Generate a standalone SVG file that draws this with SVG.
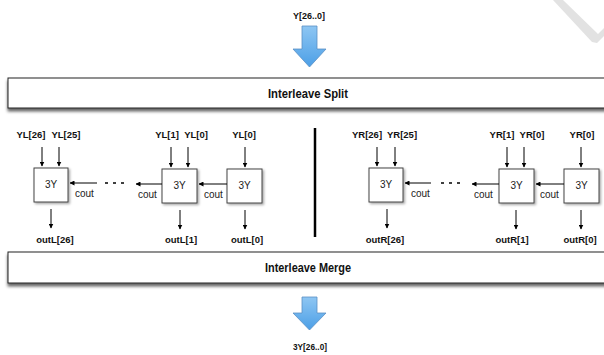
<svg xmlns="http://www.w3.org/2000/svg" width="604" height="355" viewBox="0 0 604 355">
<style>
.lbl{font-family:"Liberation Sans",Arial,sans-serif;font-weight:bold;font-size:9.5px;fill:#111;text-anchor:middle}
.bar{font-family:"Liberation Sans",Arial,sans-serif;font-weight:bold;font-size:12px;fill:#111;text-anchor:middle}
.in{font-family:"Liberation Sans",Arial,sans-serif;font-size:10px;fill:#222;text-anchor:middle}
.co{font-family:"Liberation Sans",Arial,sans-serif;font-size:10px;fill:#222}
.box{fill:#fff;stroke:#444;stroke-width:1}
.bigbox{fill:#fff;stroke:#222;stroke-width:1}
.w{stroke:#000;stroke-width:1;fill:none;marker-end:url(#ah)}
.big{fill:url(#bg);stroke:#5a8fc4;stroke-width:0.8}
</style>
<defs>
<marker id="ah" viewBox="0 0 10 10" refX="9" refY="5" markerWidth="5" markerHeight="5" orient="auto" markerUnits="userSpaceOnUse">
<path d="M0,0 L10,5 L0,10 z" fill="#000"/>
</marker>
<linearGradient id="bg" x1="0" y1="0" x2="0" y2="1">
<stop offset="0" stop-color="#8ec6f3"/>
<stop offset="1" stop-color="#4c9fe6"/>
</linearGradient>
<filter id="sh" x="-20%" y="-20%" width="150%" height="150%">
<feDropShadow dx="1.5" dy="1.5" stdDeviation="1.2" flood-color="#000" flood-opacity="0.35"/>
</filter>
<filter id="shb" x="-5%" y="-30%" width="110%" height="180%">
<feDropShadow dx="0" dy="3" stdDeviation="1.5" flood-color="#000" flood-opacity="0.6"/>
</filter>
</defs>
<rect width="604" height="355" fill="#fff"/>
<polygon points="553,0 563,0 598,34 604,28 604,36 597,43 592,42" fill="#e2e2e2"/>

<g id="input">
<text class="lbl" x="309" y="19" textLength="32" lengthAdjust="spacingAndGlyphs">Y[26..0]</text>
<path class="big" d="M302,26 H317 V49 H326 L309.5,67 L293,49 H302 Z"/>
</g>

<g id="split">
<rect class="bigbox" x="8" y="78" width="604" height="30" filter="url(#shb)"/>
<text class="bar" x="308" y="98" textLength="80" lengthAdjust="spacingAndGlyphs">Interleave Split</text>
</g>

<g id="merge">
<rect class="bigbox" x="8" y="252" width="604" height="31" filter="url(#shb)"/>
<text class="bar" x="308" y="272" textLength="86" lengthAdjust="spacingAndGlyphs">Interleave Merge</text>
</g>

<g id="output">
<path class="big" d="M302,297 H317 V313 H326 L309.5,330 L293,313 H302 Z"/>
<text class="lbl" x="310" y="350" textLength="34" lengthAdjust="spacingAndGlyphs">3Y[26..0]</text>
</g>

<g id="L26">
<rect class="box" x="34" y="168" width="34" height="34" filter="url(#sh)"/>
<text class="in" x="51" y="188">3Y</text>
</g>
<g id="L1">
<rect class="box" x="162" y="169" width="35" height="34" filter="url(#sh)"/>
<text class="in" x="179.5" y="189">3Y</text>
</g>
<g id="L0">
<rect class="box" x="227" y="169" width="35" height="34" filter="url(#sh)"/>
<text class="in" x="244.5" y="189">3Y</text>
</g>
<g id="R26">
<rect class="box" x="369" y="168" width="34" height="34" filter="url(#sh)"/>
<text class="in" x="386" y="188">3Y</text>
</g>
<g id="R1">
<rect class="box" x="499" y="169" width="35" height="34" filter="url(#sh)"/>
<text class="in" x="516.5" y="189">3Y</text>
</g>
<g id="R0">
<rect class="box" x="564" y="169" width="35" height="34" filter="url(#sh)"/>
<text class="in" x="581.5" y="189">3Y</text>
</g>

<g id="labels">
<text class="lbl" x="31" y="138">YL[26]</text>
<text class="lbl" x="66" y="138">YL[25]</text>
<text class="lbl" x="167" y="138">YL[1]</text>
<text class="lbl" x="196" y="138">YL[0]</text>
<text class="lbl" x="244" y="138">YL[0]</text>
<text class="lbl" x="55" y="243">outL[26]</text>
<text class="lbl" x="181" y="243">outL[1]</text>
<text class="lbl" x="247" y="243">outL[0]</text>
<text class="lbl" x="367" y="138">YR[26]</text>
<text class="lbl" x="402" y="138">YR[25]</text>
<text class="lbl" x="502" y="138">YR[1]</text>
<text class="lbl" x="532" y="138">YR[0]</text>
<text class="lbl" x="582" y="138">YR[0]</text>
<text class="lbl" x="385" y="243">outR[26]</text>
<text class="lbl" x="512" y="243">outR[1]</text>
<text class="lbl" x="580" y="243">outR[0]</text>
<text class="co" x="75" y="197">cout</text>
<text class="co" x="138" y="198">cout</text>
<text class="co" x="204" y="198">cout</text>
<text class="co" x="411" y="197">cout</text>
<text class="co" x="474" y="198">cout</text>
<text class="co" x="540" y="198">cout</text>
</g>

<g id="connectors">
<line class="w" x1="42" y1="147" x2="42" y2="166"/>
<line class="w" x1="59" y1="147" x2="59" y2="166"/>
<line class="w" x1="51" y1="209" x2="51" y2="228"/>
<line class="w" x1="97" y1="183" x2="70" y2="183"/>
<line x1="105" y1="183" x2="126" y2="183" stroke="#000" stroke-width="1.5" stroke-dasharray="3,5"/>
<line class="w" x1="171" y1="147" x2="171" y2="167"/>
<line class="w" x1="188" y1="147" x2="188" y2="167"/>
<line class="w" x1="180" y1="210" x2="180" y2="229"/>
<line class="w" x1="162" y1="184" x2="136" y2="184"/>
<line class="w" x1="245" y1="147" x2="245" y2="167"/>
<line class="w" x1="245" y1="210" x2="245" y2="229"/>
<line class="w" x1="227" y1="184" x2="199" y2="184"/>
<line x1="315" y1="128" x2="315" y2="237" stroke="#000" stroke-width="2.5"/>
<line class="w" x1="377" y1="147" x2="377" y2="166"/>
<line class="w" x1="395" y1="147" x2="395" y2="166"/>
<line class="w" x1="387" y1="209" x2="387" y2="228"/>
<line class="w" x1="431" y1="183" x2="405" y2="183"/>
<line x1="441" y1="183" x2="462" y2="183" stroke="#000" stroke-width="1.5" stroke-dasharray="3,5"/>
<line class="w" x1="507" y1="147" x2="507" y2="167"/>
<line class="w" x1="524" y1="147" x2="524" y2="167"/>
<line class="w" x1="516" y1="210" x2="516" y2="229"/>
<line class="w" x1="499" y1="184" x2="472" y2="184"/>
<line class="w" x1="581" y1="147" x2="581" y2="167"/>
<line class="w" x1="581" y1="210" x2="581" y2="229"/>
<line class="w" x1="564" y1="184" x2="536" y2="184"/>
</g>
</svg>
